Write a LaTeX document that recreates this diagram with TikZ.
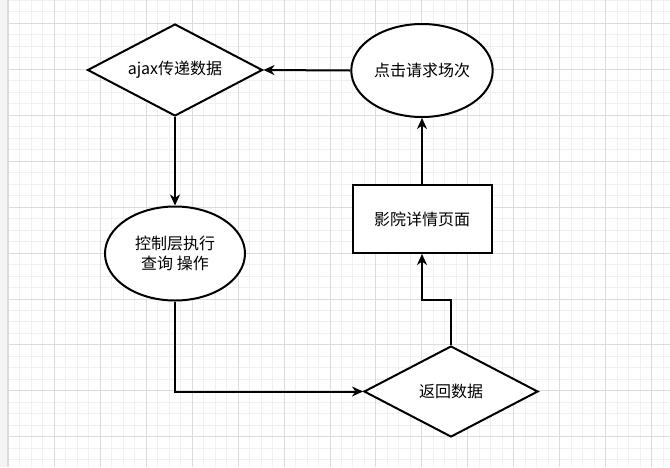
\documentclass[tikz,border=0pt]{standalone}
\usepackage{fontspec}
\setmainfont{Noto Sans CJK SC}
\usetikzlibrary{shapes.geometric,arrows.meta}
\definecolor{minorc}{HTML}{F0F0F0}
\definecolor{majorc}{HTML}{DCDCDC}
\definecolor{bandc}{HTML}{F4F4F4}
\tikzset{
  minorgrid/.style={draw=minorc,line width=1pt},
  majorgrid/.style={draw=majorc,line width=1pt},
  shapebase/.style={draw=black,line width=2pt,fill=white,inner sep=2pt,
    font=\fontsize{16}{20}\selectfont,align=center,text=black},
  decision/.style={shapebase,diamond,minimum width=175pt,minimum height=92pt,aspect=1.9},
  oval/.style={shapebase,ellipse,minimum width=139pt,minimum height=93pt},
  procbox/.style={shapebase,rectangle,minimum width=139pt,minimum height=68pt},
  arr/.style={draw=black,line width=2pt,-{Stealth[length=11pt,width=10pt,inset=3.5pt]}}
}
\begin{document}
\begin{tikzpicture}[x=1pt,y=-1pt]
\useasboundingbox (0,0) rectangle (670,467);
\fill[white] (0,0) rectangle (670,467);
% grid
\foreach \k in {0,...,57} \draw[minorgrid] ({8.35+11.4875*\k},0) -- ++(0,467);
\foreach \k in {0,...,40} \draw[minorgrid] (0,{0.325+11.4875*\k}) -- ++(670,0);
\foreach \k in {0,...,14} \draw[majorgrid] ({8.35+45.95*\k},0) -- ++(0,467);
\foreach \k in {0,...,9} \draw[majorgrid] (0,{23.3+45.95*\k}) -- ++(670,0);
\fill[bandc] (0,0) rectangle (7,467);
\draw[majorgrid] (7,0) -- (7,467);
% nodes
\node[decision] (d1) at (175,70) {ajax传递数据};
\node[oval] (e1) at (422,70.5) {点击请求场次};
\node[oval,minimum width=140pt,minimum height=94pt] (e2) at (175,253.5) {控制层执行\\查询 操作};
\node[procbox] (r1) at (422,219) {影院详情页面};
\node[decision,minimum width=174pt,minimum height=91pt] (d2) at (451,391.5) {返回数据};
\coordinate (bend) at (451,300);
% connectors
\draw[arr] (e1.west) -- (d1.east);
\draw[arr] (d1.south) -- (e2.north);
\draw[arr] (e2.south) |- (d2.west);
\draw[arr] (d2.north) -- (bend) -| (r1.south);
\draw[arr] (r1.north) -- (e1.south);
\end{tikzpicture}
\end{document}
